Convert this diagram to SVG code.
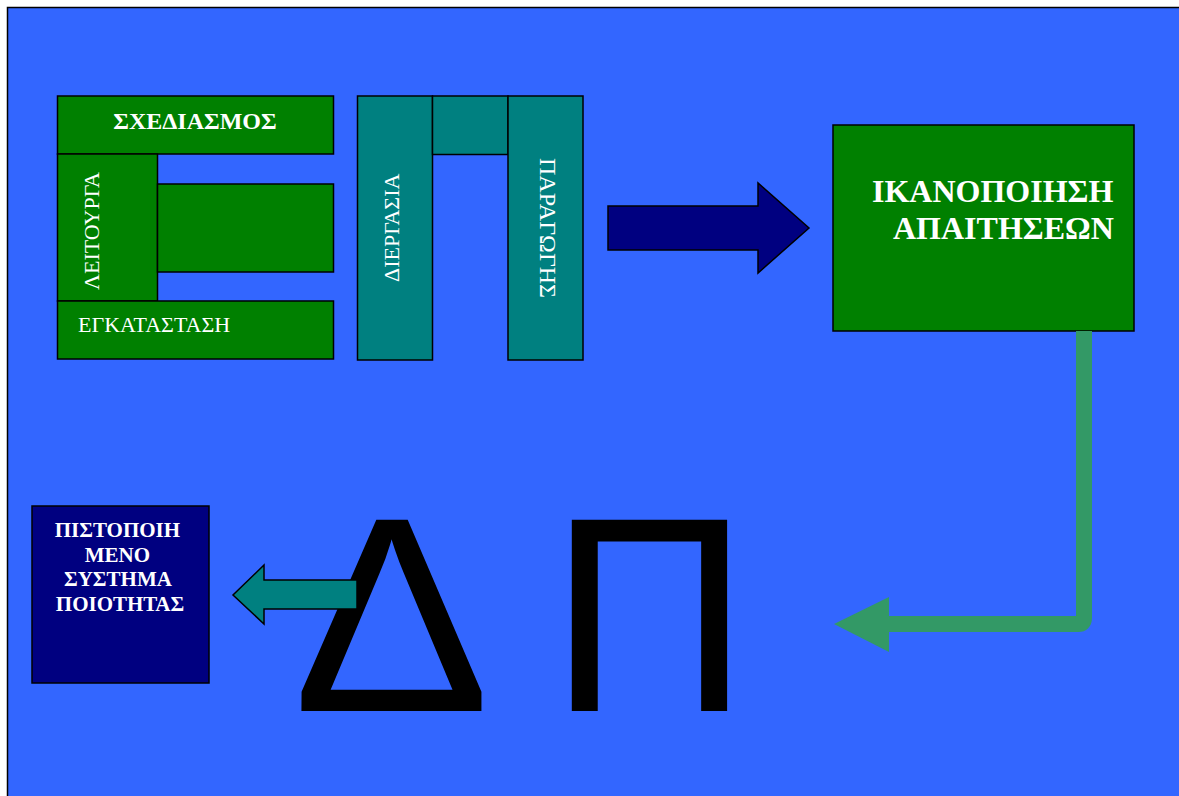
<svg xmlns="http://www.w3.org/2000/svg" width="1179" height="796" viewBox="0 0 1179 796">
  <style>
    .box { stroke: #000; stroke-width: 1.5; }
    .green { fill: #008000; }
    .teal { fill: #008080; }
    .navy { fill: #000080; }
    .lbl { font-family: "Liberation Serif", "Times New Roman", serif; fill: #fff; }
    .b { font-weight: bold; }
    .big { font-family: "Liberation Sans", Arial, sans-serif; font-size: 278px; fill: #000; }
  </style>

  <!-- page -->
  <rect x="0" y="0" width="1179" height="796" fill="#fff"/>
  <rect x="7.5" y="7.5" width="1180" height="800" fill="#3366FF" stroke="#000" stroke-width="1.5"/>

  <!-- E block -->
  <g id="sxediasmos">
    <rect class="box green" x="57.5" y="96" width="276" height="58"/>
    <text class="lbl b" x="195" y="129" font-size="24" text-anchor="middle">ΣΧΕΔΙΑΣΜΟΣ</text>
  </g>
  <g id="leitourga">
    <rect class="box green" x="57.5" y="154" width="100" height="147"/>
    <text class="lbl" transform="translate(99,290) rotate(-90)" font-size="22">ΛΕΙΤΟΥΡΓΑ</text>
  </g>
  <g id="e-middle">
    <rect class="box green" x="157.5" y="184" width="176" height="88"/>
  </g>
  <g id="egkatastasi">
    <rect class="box green" x="57.5" y="301" width="276" height="58"/>
    <text class="lbl" x="78" y="332" font-size="22">ΕΓΚΑΤΑΣΤΑΣΗ</text>
  </g>

  <!-- P block -->
  <g id="diergasia">
    <rect class="box teal" x="357.5" y="96" width="75" height="264"/>
    <text class="lbl" transform="translate(399,282) rotate(-90)" font-size="22">ΔΙΕΡΓΑΣΙΑ</text>
  </g>
  <g id="p-top">
    <rect class="box teal" x="432.5" y="96" width="75.5" height="58.5"/>
  </g>
  <g id="paragogis">
    <rect class="box teal" x="508" y="96" width="75" height="264"/>
    <text class="lbl" transform="translate(540,158) rotate(90)" font-size="24">ΠΑΡΑΓΩΓΗΣ</text>
  </g>

  <!-- requirements box -->
  <g id="ikanopoiisi">
    <rect class="box green" x="833" y="125" width="301" height="206"/>
    <text class="lbl b" font-size="32">
      <tspan x="872" y="202">ΙΚΑΝΟΠΟΙΗΣΗ</tspan>
      <tspan x="893" y="239">ΑΠΑΙΤΗΣΕΩΝ</tspan>
    </text>
  </g>

  <!-- certified system box -->
  <g id="pistopoiimeno">
    <rect class="box navy" x="32" y="506" width="177" height="177"/>
    <text class="lbl b" font-size="21" text-anchor="middle">
      <tspan x="120" y="537">ΠΙΣΤΟΠΟΙΗ</tspan>
      <tspan x="120" y="562">ΜΕΝΟ</tspan>
      <tspan x="120" y="586">ΣΥΣΤΗΜΑ</tspan>
      <tspan x="120" y="611">ΠΟΙΟΤΗΤΑΣ</tspan>
    </text>
  </g>

  <!-- large letters -->
  <g id="letters">
    <text class="big" x="0" y="0" text-anchor="middle" transform="translate(391.5,711) scale(1.065,1)">Δ</text>
    <text class="big" x="549" y="711">Π</text>
  </g>

  <!-- connectors -->
  <g id="connectors">
    <polygon class="navy" stroke="#000" stroke-width="1.5" points="608,206 758,206 758,183 809,228 758,273 758,250 608,250"/>
    <path d="M1084,331 V618 Q1084,624 1078,624 H880" fill="none" stroke="#339966" stroke-width="16"/>
    <polygon fill="#339966" points="889,597 889,652 834,624"/>
    <polygon class="teal" stroke="#000" stroke-width="1.5" points="357,580 264,580 264,565 233,595 264,624 264,609 357,609"/>
  </g>
</svg>
